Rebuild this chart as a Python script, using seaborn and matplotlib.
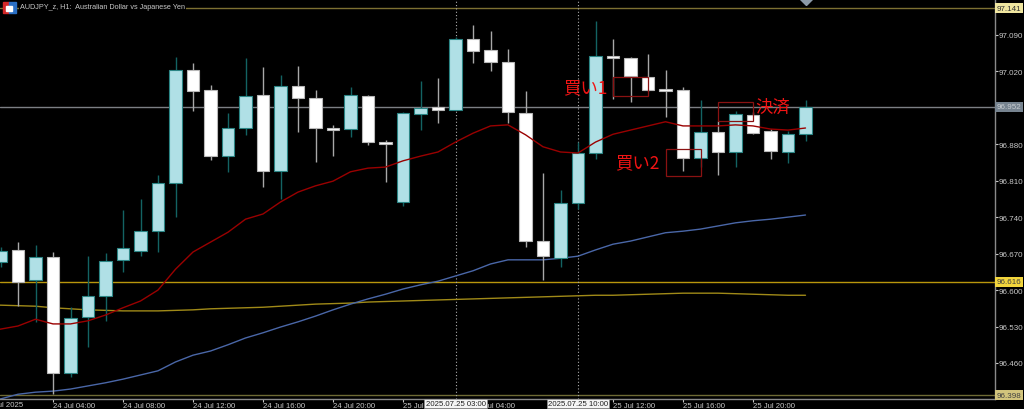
import matplotlib
matplotlib.use("Agg")
import matplotlib.pyplot as plt
from matplotlib.patches import Rectangle
import pandas as pd
import seaborn as sns

# ---------------- data (hour index from 24 Jul 00:00) ----------------
hours = list(range(1, 48))
opens = [96.654, 96.677, 96.619, 96.663, 96.441, 96.548, 96.589, 96.658, 96.675, 96.713,
         96.805, 97.022, 96.984, 96.857, 96.911, 96.974, 96.829, 96.992, 96.969, 96.910,
         96.909, 96.972, 96.883, 96.769, 96.938, 96.951, 96.946, 97.082, 97.061, 97.038,
         96.940, 96.694, 96.661, 96.767, 96.863, 97.048, 97.045, 97.009, 96.985, 96.984,
         96.853, 96.903, 96.865, 96.936, 96.905, 96.865, 96.899]
highs = [96.683, 96.692, 96.686, 96.673, 96.567, 96.665, 96.671, 96.754, 96.775, 96.821,
         97.047, 97.036, 96.994, 96.940, 97.045, 97.028, 97.013, 97.030, 96.984, 96.917,
         96.990, 96.974, 96.888, 96.942, 97.001, 97.007, 97.086, 97.109, 97.097, 97.063,
         96.982, 96.825, 96.792, 96.884, 97.116, 97.082, 97.047, 97.053, 97.022, 96.990,
         96.965, 96.924, 96.944, 96.942, 96.909, 96.905, 96.965]
lows = [96.644, 96.569, 96.539, 96.400, 96.433, 96.491, 96.541, 96.635, 96.665, 96.673,
        96.740, 96.944, 96.850, 96.827, 96.898, 96.798, 96.775, 96.903, 96.846, 96.857,
        96.894, 96.878, 96.807, 96.761, 96.907, 96.921, 96.946, 97.036, 97.020, 96.921,
        96.683, 96.619, 96.644, 96.756, 96.851, 96.967, 96.961, 96.982, 96.932, 96.829,
        96.836, 96.821, 96.836, 96.899, 96.851, 96.844, 96.886]
closes = [96.675, 96.615, 96.663, 96.441, 96.546, 96.589, 96.656, 96.681, 96.713, 96.805,
          97.022, 96.982, 96.857, 96.911, 96.972, 96.829, 96.992, 96.969, 96.911, 96.908,
          96.974, 96.884, 96.881, 96.940, 96.949, 96.946, 97.082, 97.059, 97.038, 96.942,
          96.694, 96.665, 96.767, 96.863, 97.049, 97.046, 97.011, 96.984, 96.983, 96.853,
          96.903, 96.865, 96.938, 96.901, 96.867, 96.899, 96.951]

ma_hours = list(range(0, 48))
ma_red = [96.521, 96.525, 96.531, 96.544, 96.535, 96.535, 96.541, 96.552, 96.566, 96.579,
          96.600, 96.640, 96.673, 96.692, 96.711, 96.736, 96.746, 96.769, 96.788, 96.800,
          96.809, 96.827, 96.834, 96.836, 96.848, 96.857, 96.865, 96.884, 96.901, 96.915,
          96.917, 96.898, 96.875, 96.865, 96.863, 96.884, 96.899, 96.907, 96.915, 96.923,
          96.915, 96.915, 96.915, 96.917, 96.915, 96.909, 96.907, 96.911]
ma_blue = [96.385, 96.391, 96.400, 96.404, 96.406, 96.410, 96.416, 96.422, 96.429, 96.437,
           96.445, 96.462, 96.475, 96.483, 96.495, 96.508, 96.518, 96.529, 96.539, 96.550,
           96.562, 96.573, 96.583, 96.592, 96.602, 96.610, 96.617, 96.627, 96.637, 96.650,
           96.658, 96.658, 96.658, 96.661, 96.665, 96.677, 96.688, 96.694, 96.702, 96.710,
           96.713, 96.717, 96.723, 96.729, 96.733, 96.736, 96.740, 96.744]
ma_gold = [96.572, 96.571, 96.570, 96.569, 96.566, 96.564, 96.562, 96.561, 96.560, 96.560,
           96.560, 96.561, 96.562, 96.564, 96.565, 96.566, 96.567, 96.569, 96.571, 96.573,
           96.574, 96.575, 96.577, 96.578, 96.579, 96.580, 96.581, 96.582, 96.583, 96.584,
           96.585, 96.586, 96.587, 96.588, 96.589, 96.590, 96.590, 96.591, 96.592, 96.593,
           96.594, 96.594, 96.594, 96.593, 96.592, 96.591, 96.590, 96.590]

level_prices = [97.141, 96.952, 96.616, 96.398]
level_labels = ["97.141", "96.952", "96.616", "96.398"]

ytick_values = [97.090, 97.020, 96.880, 96.810, 96.740, 96.670, 96.600, 96.530, 96.460]
ytick_labels = ["97.090", "97.020", "96.880", "96.810", "96.740", "96.670", "96.600", "96.530", "96.460"]

xtick_hours = [4, 8, 12, 16, 20, 24, 28, 36, 40, 44]
xtick_labels = ["24 Jul 04:00", "24 Jul 08:00", "24 Jul 12:00", "24 Jul 16:00",
                "24 Jul 20:00", "25 Jul", "25 Jul 04:00", "25 Jul 12:00",
                "25 Jul 16:00", "25 Jul 20:00"]
first_label_hour = 0
first_label = "24 Jul 2025"

marker_hours = [27, 34]
marker_labels = ["2025.07.25 03:00", "2025.07.25 10:00"]

title = "AUDJPY_z, H1:  Australian Dollar vs Japanese Yen"

# ---------------- style ----------------
sns.set_style("dark")
plt.rcParams["font.family"] = ["Liberation Sans", "Noto Sans CJK JP", "DejaVu Sans"]

W, H = 1024, 410
XLIM = (17 / 17.5, 1012 / 17.5)
YLIM = (96.3909, 97.1586)
fig = plt.figure(figsize=(W / 100, H / 100), dpi=100, facecolor="black")
ax = fig.add_axes([0, 10 / H, 995 / W, 400 / H])
ax.set_facecolor("black")
ax.grid(False)

# horizontal levels
level_colors = ["#7d7032", "#7c7f84", "#b8960c", "#6e6a34"]
for p, c in zip(level_prices, level_colors):
    ax.axhline(p, color=c, lw=1.0, zorder=1)

# vertical dotted lines
for h in marker_hours:
    ax.axvline(h, color="#b0b0b0", lw=0.8, ls=(0, (1, 2)), zorder=1)

# moving averages via seaborn
df_ma = pd.DataFrame({"hour": ma_hours, "red": ma_red, "blue": ma_blue, "gold": ma_gold})
sns.lineplot(data=df_ma, x="hour", y="gold", color="#a08a18", lw=1.0, ax=ax, zorder=2)
sns.lineplot(data=df_ma, x="hour", y="blue", color="#4a67a8", lw=1.0, ax=ax, zorder=2)

# candles
df = pd.DataFrame({"hour": hours, "open": opens, "high": highs, "low": lows, "close": closes})
bull = df[df["close"] >= df["open"]]
bear = df[df["close"] < df["open"]]
ax.vlines(bull["hour"], bull["low"], bull["high"], color="#136363", lw=1.0, zorder=3)
ax.vlines(bear["hour"], bear["low"], bear["high"], color="#a8a8a8", lw=1.0, zorder=3)
minh = 0.004
for sub, fc, ec in [(bull, "#b0e0e6", "#2b8585"), (bear, "#ffffff", "#b8b8b8")]:
    body = (sub["close"] - sub["open"]).abs()
    heights = body.clip(lower=minh)
    bottoms = sub[["open", "close"]].min(axis=1) - (heights - body) / 2
    ax.bar(sub["hour"], heights, bottom=bottoms, width=0.69, color=fc, edgecolor=ec,
           linewidth=0.8, zorder=4)

sns.lineplot(data=df_ma, x="hour", y="red", color="#9a0000", lw=1.0, ax=ax, zorder=5)

# annotations
red = "#f01414"
box = "#8a1212"
for (x, y, t) in [(33.14, 96.990, "買い1"), (36.11, 96.846, "買い2"), (44.11, 96.951, "決済")]:
    ax.text(x, y, t, color=red, fontsize=12.5, va="center", ha="left",
            family=["Noto Sans CJK JP"], zorder=6)
for (x0, x1, y0, y1) in [(36.0, 38.0, 96.972, 97.009), (39.03, 41.03, 96.819, 96.871),
                         (42.0, 44.0, 96.924, 96.961)]:
    ax.add_patch(Rectangle((x0, y0), x1 - x0, y1 - y0, fill=False, ec=box, lw=0.9, zorder=6))

ax.plot([47], [YLIM[1]], marker="D", color="#8c9aa8", ms=6, clip_on=True, zorder=7)

# spines
for s in ["top", "left"]:
    ax.spines[s].set_visible(False)
for s in ["right", "bottom"]:
    ax.spines[s].set_visible(True)
    ax.spines[s].set_color("#8a8a8a")
    ax.spines[s].set_linewidth(1.0)

ax.set_xlabel("")
ax.set_ylabel("")

# y ticks on right
ax.yaxis.tick_right()
ax.set_yticks(ytick_values)
ax.set_yticklabels(ytick_labels)
ax.tick_params(axis="y", colors="#c8c8c8", labelsize=5.8, length=2, width=0.8, pad=0.5,
               right=True, left=False, direction="out")

# x ticks
ax.set_xticks(xtick_hours)
ax.set_xticklabels(xtick_labels)
ax.tick_params(axis="x", colors="#c8c8c8", labelsize=5.6, length=2, width=0.8, pad=0.5,
               direction="out", bottom=True)
for lab in ax.get_xticklabels():
    lab.set_ha("left")

ax.set_xlim(*XLIM)
ax.set_ylim(*YLIM)

xtr = ax.get_xaxis_transform()
# first (partly cut) date label at the left edge
ax.text(first_label_hour, -0.006, first_label, transform=xtr, ha="left", va="top",
        fontsize=5.6, color="#c8c8c8", clip_on=False)

# marker boxes on time axis
for h, t in zip(marker_hours, marker_labels):
    ax.text(h, -0.003, t, transform=xtr, ha="center", va="top", fontsize=5.6, color="#202020",
            bbox=dict(boxstyle="square,pad=0.15", fc="#f4f4f4", ec="#909090", lw=0.5),
            clip_on=False, zorder=10)

# level labels on price axis
ytr = ax.get_yaxis_transform()
label_bg = ["#f0e6a0", "#76838f", "#f2d53c", "#d2c47c"]
label_fg = ["#303030", "#c8ccd0", "#404040", "#404040"]
for p, t, bg, fg in zip(level_prices, level_labels, label_bg, label_fg):
    ax.text(1.002, p, t, transform=ytr, ha="left", va="center", fontsize=5.8, color=fg,
            bbox=dict(boxstyle="square,pad=0.2", fc=bg, ec="none"), clip_on=False, zorder=10)

# title + icon
fig.text(20 / W, 1 - 7.5 / H, title, fontsize=5.2, color="#c8c8c8", va="center", ha="left",
         bbox=dict(boxstyle="square,pad=0.2", fc="black", ec="none"), zorder=10)
fig.add_artist(Rectangle((3 / W, 1 - 14 / H), 6 / W, 11 / H, transform=fig.transFigure,
                         color="#d42828", zorder=11))
fig.add_artist(Rectangle((9 / W, 1 - 14 / H), 7 / W, 11 / H, transform=fig.transFigure,
                         color="#2a6fc4", zorder=11))
fig.add_artist(Rectangle((6 / W, 1 - 12 / H), 6 / W, 5 / H, transform=fig.transFigure,
                         color="#ffffff", zorder=12))

fig.savefig("out.png", dpi=100, facecolor="black")
